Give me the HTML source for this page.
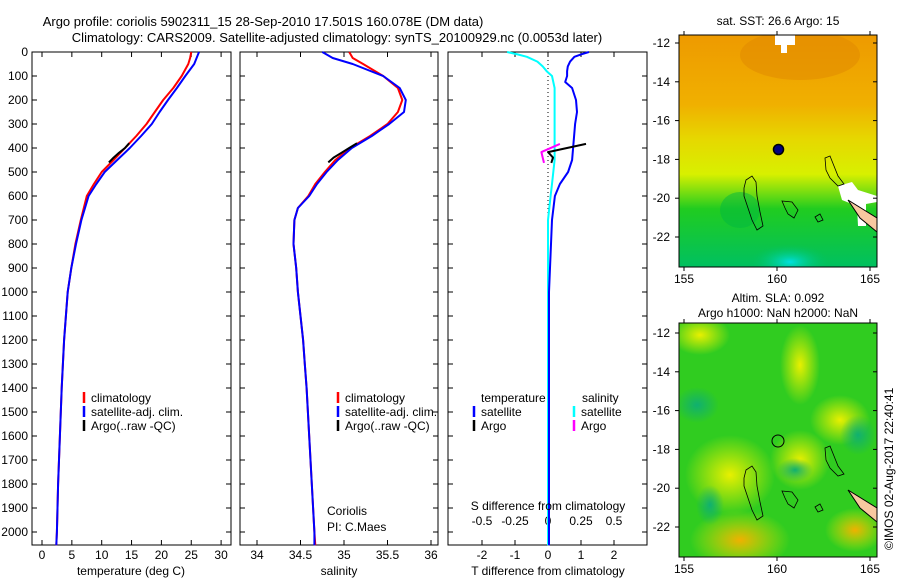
<!DOCTYPE html>
<html><head><meta charset="utf-8">
<style>
html,body{margin:0;padding:0;background:#fff;}
svg{display:block;font-family:"Liberation Sans",sans-serif;}
text{font-size:12px;fill:#000;}
</style></head>
<body>
<svg id="fig" width="900" height="580" viewBox="0 0 900 580" xmlns="http://www.w3.org/2000/svg">
<defs>
 <linearGradient id="sstg" x1="0" y1="0" x2="0" y2="1">
  <stop offset="0" stop-color="#ee9a00"/>
  <stop offset="0.3" stop-color="#f0b000"/>
  <stop offset="0.45" stop-color="#e6d800"/>
  <stop offset="0.6" stop-color="#d8f000"/>
  <stop offset="0.75" stop-color="#20cc20"/>
  <stop offset="1" stop-color="#00c060"/>
 </linearGradient>
 <radialGradient id="cyanb"><stop offset="0" stop-color="#00e0e0"/><stop offset="1" stop-color="#00c060" stop-opacity="0"/></radialGradient>
 <radialGradient id="yelb"><stop offset="0" stop-color="#e8f000"/><stop offset="1" stop-color="#e8f000" stop-opacity="0"/></radialGradient>
 <radialGradient id="orb"><stop offset="0" stop-color="#f0b000"/><stop offset="1" stop-color="#e0e800" stop-opacity="0"/></radialGradient>
 <radialGradient id="tealb"><stop offset="0" stop-color="#10b070"/><stop offset="1" stop-color="#10b070" stop-opacity="0"/></radialGradient>
 <clipPath id="m1c"><rect x="679" y="35" width="198" height="232"/></clipPath>
 <clipPath id="m2c"><rect x="679" y="323" width="198" height="234"/></clipPath>
</defs>

<text x="263" y="26" style="font-size:13px" text-anchor="middle">Argo profile: coriolis 5902311_15 28-Sep-2010 17.501S 160.078E (DM data)</text>
<text x="337" y="42" style="font-size:13px" text-anchor="middle">Climatology: CARS2009. Satellite-adjusted climatology: synTS_20100929.nc (0.0053d later)</text>

<g id="p1"></g>
<g id="p2"></g>
<g id="p3"></g>

<!-- Map 1 -->
<g>
 <text x="778" y="25" text-anchor="middle">sat. SST: 26.6 Argo: 15</text>
 <g clip-path="url(#m1c)">
  <rect x="679" y="35" width="198" height="232" fill="url(#sstg)"/>
  <ellipse cx="800" cy="55" rx="60" ry="25" fill="#e08800" opacity="0.5"/>
  <ellipse cx="790" cy="262" rx="40" ry="18" fill="url(#cyanb)"/>
  <ellipse cx="740" cy="210" rx="20" ry="18" fill="#00b840" opacity="0.5"/>
  <rect x="775" y="35" width="20" height="10" fill="#fff"/>
  <rect x="781" y="45" width="6" height="8" fill="#fff"/>
  <path d="M838 186 L852 182 L858 190 L877 196 L877 202 L866 204 L866 226 L858 226 L857 206 L842 200 Z" fill="#fff"/>
  <path d="M848 200 L877 218 L877 232 L860 218 Z" fill="#f8c8a0" stroke="#000" stroke-width="1"/>
  <path d="M746 180 L752 176 L756 182 L757 196 L760 212 L763 226 L757 230 L752 220 L748 208 L744 196 L744 188 Z" fill="none" stroke="#000" stroke-width="0.8"/>
  <path d="M825 158 L830 156 L834 166 L838 176 L844 184 L838 186 L830 178 L826 170 Z" fill="none" stroke="#000" stroke-width="0.8"/>
  <path d="M782 201 L792 202 L798 210 L794 218 L788 214 L785 208 Z" fill="none" stroke="#000" stroke-width="0.8"/>
  <path d="M815 217 L820 214 L823 220 L818 222 Z" fill="none" stroke="#000" stroke-width="0.8"/>
  <circle cx="778.5" cy="149.5" r="5" fill="#000080" stroke="#000" stroke-width="1.5"/>
 </g>
 <rect x="679" y="35" width="198" height="232" fill="none" stroke="#000"/>
 <g id="m1ax"></g>
</g>

<!-- Map 2 -->
<g>
 <text x="778" y="302" text-anchor="middle">Altim. SLA: 0.092</text>
 <text x="778" y="317" text-anchor="middle">Argo h1000: NaN h2000: NaN</text>
 <g clip-path="url(#m2c)">
  <rect x="679" y="323" width="198" height="234" fill="#30cc20"/>
  <ellipse cx="700" cy="335" rx="30" ry="20" fill="url(#yelb)"/>
  <ellipse cx="800" cy="365" rx="20" ry="40" fill="url(#yelb)"/>
  <ellipse cx="730" cy="475" rx="45" ry="40" fill="url(#yelb)"/>
  <ellipse cx="800" cy="460" rx="30" ry="30" fill="url(#yelb)"/>
  <ellipse cx="840" cy="420" rx="30" ry="25" fill="url(#yelb)"/>
  <ellipse cx="740" cy="540" rx="50" ry="30" fill="url(#orb)"/>
  <ellipse cx="855" cy="530" rx="30" ry="22" fill="url(#orb)"/>
  <ellipse cx="697" cy="405" rx="22" ry="18" fill="url(#tealb)"/>
  <ellipse cx="858" cy="435" rx="18" ry="20" fill="url(#tealb)"/>
  <ellipse cx="795" cy="470" rx="18" ry="12" fill="url(#tealb)"/>
  <ellipse cx="710" cy="505" rx="14" ry="20" fill="url(#tealb)"/>
  <path d="M848 490 L877 508 L877 522 L860 508 Z" fill="#f8c8a0" stroke="#000" stroke-width="1"/>
  <path d="M746 470 L752 466 L756 472 L757 486 L760 502 L763 516 L757 520 L752 510 L748 498 L744 486 L744 478 Z" fill="none" stroke="#000" stroke-width="0.8"/>
  <path d="M825 448 L830 446 L834 456 L838 466 L844 474 L838 476 L830 468 L826 460 Z" fill="none" stroke="#000" stroke-width="0.8"/>
  <path d="M782 491 L792 492 L798 500 L794 508 L788 504 L785 498 Z" fill="none" stroke="#000" stroke-width="0.8"/>
  <path d="M815 507 L820 504 L823 510 L818 512 Z" fill="none" stroke="#000" stroke-width="0.8"/>
  <circle cx="778" cy="441" r="6" fill="none" stroke="#000" stroke-width="1"/>
 </g>
 <rect x="679" y="323" width="198" height="234" fill="none" stroke="#000"/>
 <g id="m2ax"></g>
</g>

<text transform="translate(893,550) rotate(-90)" style="font-size:12px">©IMOS 02-Aug-2017 22:40:41</text>
</svg>

<script>
// ---- data ----
const depthClim = [0, 25, 50, 100, 150, 200, 250, 300, 350, 400, 450, 500, 550, 600, 650, 700, 800, 900, 1000, 1100, 1200, 1300, 1400, 1600, 1800, 2000, 2055];
const tempClim  = [25.0, 24.8, 24.5, 23.4, 22.0, 20.3, 18.9, 17.5, 15.8, 13.9, 12.0, 10.0, 8.7, 7.5, 7.0, 6.5, 5.6, 4.9, 4.3, 4.0, 3.7, 3.5, 3.3, 3.0, 2.7, 2.5, 2.4];
const tempSat   = [26.3, 25.9, 25.5, 24.0, 22.6, 21.1, 19.7, 18.4, 16.6, 14.7, 12.6, 10.5, 9.1, 7.8, 7.2, 6.6, 5.7, 4.9, 4.3, 4.0, 3.7, 3.5, 3.3, 3.0, 2.7, 2.5, 2.4];
const salClim   = [35.06, 35.10, 35.22, 35.45, 35.62, 35.67, 35.62, 35.50, 35.30, 35.07, 34.90, 34.78, 34.67, 34.59, 34.47, 34.43, 34.42, 34.45, 34.47, 34.50, 34.53, 34.55, 34.57, 34.60, 34.63, 34.66, 34.67];
const salSat    = [34.75, 34.87, 35.10, 35.45, 35.64, 35.71, 35.69, 35.52, 35.32, 35.09, 34.93, 34.80, 34.69, 34.60, 34.47, 34.43, 34.42, 34.45, 34.47, 34.50, 34.53, 34.55, 34.57, 34.60, 34.63, 34.66, 34.66];
const depthArgo = [380, 400, 420, 440, 460];
const tempArgo  = [14.6, 13.9, 12.9, 12.0, 11.2];
const salArgo   = [35.15, 35.06, 34.97, 34.88, 34.82];
const depthDiff = [0, 10, 20, 40, 60, 80, 100, 125, 150, 200, 250, 300, 400, 450, 500, 550, 600, 700, 800, 900, 1000, 1500, 2055];
const tDiffSat  = [1.24, 1.0, 0.8, 0.67, 0.6, 0.58, 0.58, 0.52, 0.73, 0.85, 0.88, 0.82, 0.76, 0.73, 0.61, 0.36, 0.21, 0.12, 0.09, 0.06, 0.03, 0.03, 0.03];
const sDiffSat  = [-0.31, -0.23, -0.16, -0.08, -0.04, -0.01, 0.03, 0.04, 0.05, 0.05, 0.05, 0.05, 0.05, 0.05, 0.04, 0.03, 0.02, 0.0, 0.0, 0.0, 0.0, 0.0, 0.0];
const depthArgoDiff = [383, 417, 440, 462];
const tDiffArgo = [1.15, 0.0, 0.15, 0.1];
const sDiffArgo = [0.09, -0.05, -0.04, -0.03];
const depthTicks = [0,100,200,300,400,500,600,700,800,900,1000,1100,1200,1300,1400,1500,1600,1700,1800,1900,2000];
const tempTicks = [0,5,10,15,20,25,30];
const salTicks = [34,34.5,35,35.5,36];
const salTickLabels = ["34","34.5","35","35.5","36"];
const tdTicks = [-2,-1,0,1,2];
const sdTicks = [-0.5,-0.25,0,0.25,0.5];
const sdTickLabels = ["-0.5","-0.25","0","0.25","0.5"];
const latTicks = [-12,-14,-16,-18,-20,-22];
const lonTicks = [155,160,165];

const NS = "http://www.w3.org/2000/svg";
function mk(parent, tag, attrs, txt){
  const e = document.createElementNS(NS, tag);
  for (const k in attrs) e.setAttribute(k, attrs[k]);
  if (txt !== undefined) e.textContent = txt;
  parent.appendChild(e); return e;
}
const yD = d => 52 + d * 0.24;
const xT = t => 42 + t * 5.97;
const xS = s => 257 + (s - 34) * 87;
const xTD = v => 548 + v * 33;
const xSD = v => 548 + v * 132;

function line(g, xs, ds, xf, color, w, name){
  const pts = xs.map((v,i)=> xf(v).toFixed(1)+","+yD(ds[i]).toFixed(1)).join(" ");
  const p = mk(g, "polyline", {points: pts, fill: "none", stroke: color, "stroke-width": w, "stroke-linejoin": "round"});
  
  
}
function frame(g, x0, x1){
  mk(g, "rect", {x: x0, y: 52, width: x1 - x0, height: 493, fill: "none", stroke: "#000"});
}
function xticks(g, vals, labels, xf, ly, name){
  vals.forEach((v,i)=>{
    const x = xf(v);
    mk(g,"line",{x1:x,y1:545,x2:x,y2:540,stroke:"#000"});
    mk(g,"line",{x1:x,y1:52,x2:x,y2:57,stroke:"#000"});
    const t = mk(g,"text",{x:x,y:ly,"text-anchor":"middle"}, labels[i]);
    
    
  });
}
function legendItem(g, x, y, color, label){
  mk(g,"line",{x1:x,y1:y-10,x2:x,y2:y+1,stroke:color,"stroke-width":2.5});
  const t = mk(g,"text",{x:x+7,y:y}, label);
  
  
}

// Panel 1
const p1 = document.getElementById("p1");
frame(p1, 32, 231);
depthTicks.forEach(d=>{
  const y = yD(d);
  mk(p1,"line",{x1:32,y1:y,x2:37,y2:y,stroke:"#000"});
  mk(p1,"line",{x1:231,y1:y,x2:226,y2:y,stroke:"#000"});
  const t = mk(p1,"text",{x:28,y:y+4,"text-anchor":"end"}, String(d));
  
  
});
xticks(p1, tempTicks, tempTicks.map(String), xT, 559, 'temperature-tick-label');
line(p1, tempClim, depthClim, xT, "#ff0000", 2, 'temperature-climatology-line');
line(p1, tempSat, depthClim, xT, "#0000ff", 2, 'temperature-satellite-line');
line(p1, tempArgo, depthArgo, xT, "#000", 2, 'temperature-argo-line');
legendItem(p1, 84, 402, "#ff0000", "climatology");
legendItem(p1, 84, 416, "#0000ff", "satellite-adj. clim.");
legendItem(p1, 84, 430, "#000", "Argo(..raw -QC)");
mk(p1,"text",{x:131,y:575,"text-anchor":"middle",},"temperature (deg C)");

// Panel 2
const p2 = document.getElementById("p2");
frame(p2, 240, 438);
depthTicks.forEach(d=>{
  const y = yD(d);
  mk(p2,"line",{x1:240,y1:y,x2:245,y2:y,stroke:"#000"});
  mk(p2,"line",{x1:438,y1:y,x2:433,y2:y,stroke:"#000"});
});
xticks(p2, salTicks, salTickLabels, xS, 559, 'salinity-tick-label');
line(p2, salClim, depthClim, xS, "#ff0000", 2, 'salinity-climatology-line');
line(p2, salSat, depthClim, xS, "#0000ff", 2, 'salinity-satellite-line');
line(p2, salArgo, depthArgo, xS, "#000", 2, 'salinity-argo-line');
legendItem(p2, 338, 402, "#ff0000", "climatology");
legendItem(p2, 338, 416, "#0000ff", "satellite-adj. clim.");
legendItem(p2, 338, 430, "#000", "Argo(..raw -QC)");
mk(p2,"text",{x:327,y:515,},"Coriolis");
mk(p2,"text",{x:327,y:531,},"PI: C.Maes");
mk(p2,"text",{x:339,y:575,"text-anchor":"middle",},"salinity");

// Panel 3
const p3 = document.getElementById("p3");
frame(p3, 448, 647);
depthTicks.forEach(d=>{
  const y = yD(d);
  mk(p3,"line",{x1:448,y1:y,x2:453,y2:y,stroke:"#000"});
  mk(p3,"line",{x1:647,y1:y,x2:642,y2:y,stroke:"#000"});
});
xticks(p3, tdTicks, tdTicks.map(String), xTD, 559, 'tdiff-tick-label');
sdTicks.forEach((v,i)=>{
  const t = mk(p3,"text",{x:xSD(v),y:525,"text-anchor":"middle"}, sdTickLabels[i]);
  
  
});
mk(p3,"line",{x1:548,y1:52,x2:548,y2:545,stroke:"#000","stroke-dasharray":"1,3"});
line(p3, sDiffSat, depthDiff, xSD, "#00ffff", 2, 'salinity-satellite-diff-line');
line(p3, tDiffSat, depthDiff, xTD, "#0000ff", 2, 'temperature-satellite-diff-line');
line(p3, tDiffArgo, depthArgoDiff, xTD, "#000", 2, 'temperature-argo-diff-line');
line(p3, sDiffArgo, depthArgoDiff, xSD, "#ff00ff", 2, 'salinity-argo-diff-line');
mk(p3,"text",{x:481,y:402,},"temperature");
mk(p3,"text",{x:582,y:402,},"salinity");
legendItem(p3, 474, 416, "#0000ff", "satellite");
legendItem(p3, 474, 430, "#000", "Argo");
legendItem(p3, 574, 416, "#00ffff", "satellite");
legendItem(p3, 574, 430, "#ff00ff", "Argo");
mk(p3,"text",{x:548,y:510,"text-anchor":"middle",},"S difference from climatology");
mk(p3,"text",{x:548,y:575,"text-anchor":"middle",},"T difference from climatology");

// Map axes
function mapAxes(id, yoff, top, bot){
  const g = document.getElementById(id);
  latTicks.forEach(l=>{
    const y = 43 + (-12 - l) * 19.4 + yoff;
    mk(g,"line",{x1:679,y1:y,x2:675,y2:y,stroke:"#000"});
    mk(g,"line",{x1:877,y1:y,x2:873,y2:y,stroke:"#000"});
    const t = mk(g,"text",{x:670,y:y+4,"text-anchor":"end"}, String(l));
    
    
  });
  lonTicks.forEach(l=>{
    const x = 684 + (l - 155) * 18.6;
    mk(g,"line",{x1:x,y1:bot,x2:x,y2:bot+4,stroke:"#000"});
    mk(g,"line",{x1:x,y1:top,x2:x,y2:top-4,stroke:"#000"});
    const t = mk(g,"text",{x:x,y:bot+16,"text-anchor":"middle"}, String(l));
    
    
  });
}
mapAxes("m1ax", 0, 35, 267);
mapAxes("m2ax", 290, 323, 557);
</script>
</body></html>
